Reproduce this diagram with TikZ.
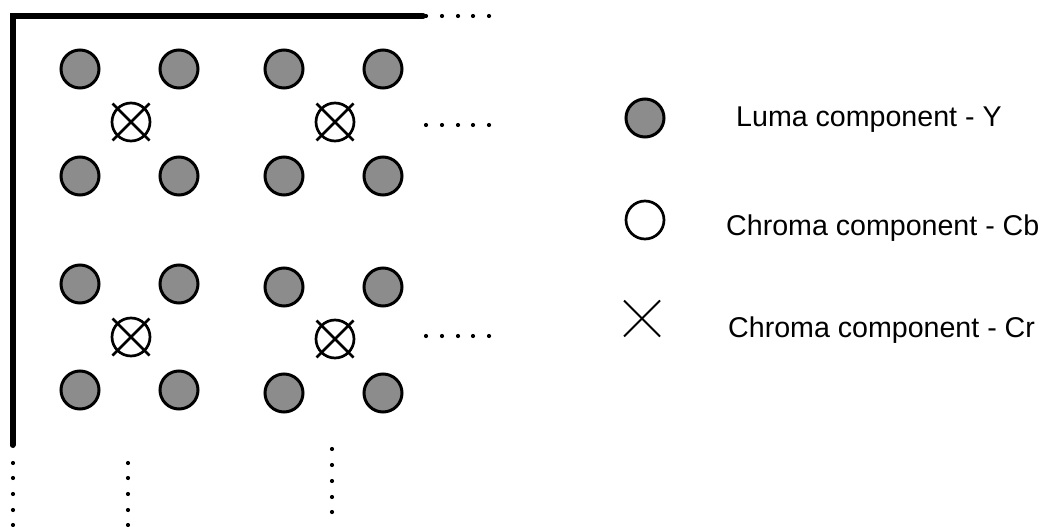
\documentclass[tikz,border=0pt]{standalone}
\usepackage{fontspec}
\setmainfont{Liberation Sans}
\definecolor{lumagrey}{RGB}{140,140,140}
\begin{document}
\begin{tikzpicture}[x=1pt,y=-1pt,
  luma/.style={circle,draw,line width=3pt,fill=lumagrey,minimum size=38pt,inner sep=0pt},
  chroma/.style={circle,draw,line width=2.7pt,fill=white,minimum size=38pt,inner sep=0pt},
  crossline/.style={line width=2.7pt},
  frame/.style={line width=6pt,line cap=round,line join=miter},
  legendtext/.style={anchor=base west,inner sep=0pt,font=\fontsize{28.6}{32}\selectfont}]
\useasboundingbox (0,0) rectangle (1045,527);

% sample grid boundary
\coordinate (corner) at (12.5,16);
\coordinate (topend) at (423,16);
\coordinate (leftend) at (12.5,445);
\draw[frame] (topend) -- (corner) -- (leftend);

% luma samples
\foreach \n/\x/\y in {a1/80/69, a2/179/69, a3/284/69, a4/383/69,
                      b1/80/176, b2/179/176, b3/284/176, b4/383/176,
                      c1/80/284, c2/179/284, c3/284/287, c4/383/287,
                      d1/80/390, d2/179/390, d3/284/393, d4/383/393}
  \node[luma] (\n) at (\x,\y) {};

% co-sited chroma samples (Cb circle with Cr cross)
\foreach \n/\x/\y in {k1/131/122, k2/335/122, k3/131/337, k4/335/339} {
  \node[chroma] (\n) at (\x,\y) {};
  \draw[crossline] (\n.center) ++(-18.5,-18.5) -- ++(37,37);
  \draw[crossline] (\n.center) ++(18.5,-18.5) -- ++(-37,37);
}

% continuation dots to the right
\foreach \y in {16,125,336}
  \foreach \x in {426,442,458,473,489}
    \fill (\x,\y) circle (2.1);

% continuation dots downwards
\foreach \x in {13,128}
  \foreach \y in {463,478,494,510,525}
    \fill (\x,\y) circle (2.1);
\foreach \y in {449,465,481,497,512}
  \fill (332,\y) circle (2.1);

% legend
\node[luma] (legY) at (645,118) {};
\node[chroma] (legCb) at (645,220) {};
\coordinate (legCr) at (642,318.5);
\draw[line width=2pt] (legCr) ++(-18,-18) -- ++(36,36);
\draw[line width=2pt] (legCr) ++(18,-18) -- ++(-36,36);

\node[legendtext] (tY) at (736,126.5) {Luma component - Y};
\node[legendtext] (tCb) at (726,235) {Chroma component - Cb};
\node[legendtext] (tCr) at (728,337) {Chroma component - Cr};
\end{tikzpicture}
\end{document}
